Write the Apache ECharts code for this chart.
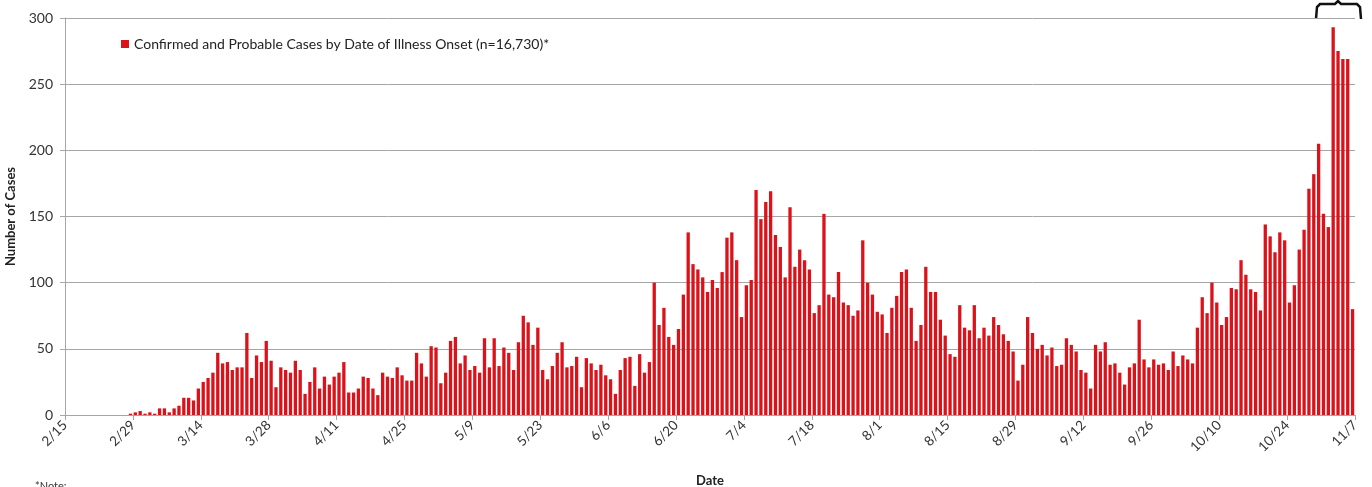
<!DOCTYPE html>
<html>
<head>
<meta charset="utf-8">
<script src="https://cdn.jsdelivr.net/npm/echarts@6/dist/echarts.min.js"></script>
<style>
html,body{margin:0;padding:0;background:#fff;}
#c{width:1372px;height:487px;}
</style>
</head>
<body>
<div id="c"></div>
<script>
// Tick labels (every 14 days, at slot boundaries)
const tickLabels = ['2/15','2/29','3/14','3/28','4/11','4/25','5/9','5/23','6/6','6/20','7/4','7/18','8/1','8/15','8/29','9/12','9/26','10/10','10/24','11/7'];
// Daily cases by date of illness onset, starting 2/15
const cases = [
0,0,0,0,0,0,0,0,0,0,0,0,0,
1,2,3,1,2,1,5,5,2,5,7,13,13,11,20,
25,28,32,47,39,40,34,36,36,62,28,45,40,56,
41,21,36,34,32,41,34,16,25,36,20,29,23,29,
32,40,17,17,20,29,28,20,15,32,29,28,36,30,
26,26,47,39,29,52,51,24,32,56,59,39,45,34,
37,32,58,36,58,37,51,47,34,55,75,70,53,66,
34,27,37,47,55,36,37,44,21,43,39,34,38,30,
27,16,34,43,44,22,46,32,40,100,68,81,59,53,
65,91,138,114,110,104,93,102,96,108,134,138,117,74,
98,102,170,148,161,169,136,127,104,157,112,125,117,110,
77,83,152,91,89,108,85,83,75,79,132,100,91,78,
76,62,81,90,108,110,81,56,68,112,93,93,72,60,
46,44,83,66,64,83,58,66,60,74,68,61,56,48,
26,38,74,62,50,53,45,51,37,38,58,53,48,34,
32,20,53,48,55,38,39,32,23,36,39,72,42,36,
42,38,39,34,48,37,45,42,39,66,89,77,100,85,
68,74,96,95,117,106,95,93,79,144,135,123,138,132,
85,98,125,140,171,182,205,152,142,293,275,269,269,80
];
const seriesName = 'Confirmed and Probable Cases by Date of Illness Onset (n=16,730)*';

const FONT = 'Lato, "Open Sans", sans-serif';
const chart = echarts.init(document.getElementById('c'), null, {renderer: 'canvas'});
chart.setOption({
  animation: false,
  backgroundColor: '#ffffff',
  grid: {left: 65, right: 17, top: 18, bottom: 72, containLabel: false, outerBoundsMode: 'none'},
  legend: {
    left: 116, top: 32,
    icon: 'rect', itemWidth: 8, itemHeight: 8, itemGap: 6,
    textStyle: {fontFamily: FONT, fontSize: 14, color: '#222'},
    data: [seriesName]
  },
  xAxis: {
    type: 'value', min: 0, max: 266, interval: 14,
    name: 'Date', nameLocation: 'middle', nameGap: 59,
    nameTextStyle: {fontFamily: FONT, fontSize: 13, fontWeight: 'bold', color: '#222'},
    axisLine: {show: true, lineStyle: {color: '#a6a6a6'}},
    axisTick: {show: true, length: 5, lineStyle: {color: '#a6a6a6'}},
    splitLine: {show: false},
    axisLabel: {
      rotate: 45, margin: 8, fontFamily: FONT, fontSize: 13.5, color: '#333',
      formatter: v => tickLabels[Math.round(v / 14)] || ''
    }
  },
  yAxis: {
    type: 'value', min: 0, max: 300, interval: 50,
    name: 'Number of Cases', nameLocation: 'middle', nameGap: 44,
    nameTextStyle: {fontFamily: FONT, fontSize: 13, fontWeight: 'bold', color: '#222'},
    axisLine: {show: true, lineStyle: {color: '#a6a6a6'}},
    axisTick: {show: true, length: 5, lineStyle: {color: '#a6a6a6'}},
    splitLine: {show: true, lineStyle: {color: '#a6a6a6', width: 1}},
    axisLabel: {margin: 12, fontFamily: FONT, fontSize: 14, color: '#333'}
  },
  series: [{
    name: seriesName,
    type: 'bar',
    barWidth: 3.3,
    itemStyle: {color: '#dc121a'},
    data: cases.map((v, i) => [i + 0.5, v])
  }],
  graphic: [
    {
      type: 'polyline',
      shape: {points: [[1316, 19], [1317, 7], [1320, 4], [1335, 4], [1338, 1], [1341, 4], [1357, 4], [1360, 7], [1361, 19]]},
      style: {stroke: '#111', lineWidth: 2.5, fill: null}
    },
    {
      type: 'text', left: 35, top: 481,
      style: {text: '*Note:', fontFamily: FONT, fontSize: 11, fill: '#333'}
    }
  ]
});
</script>
</body>
</html>
